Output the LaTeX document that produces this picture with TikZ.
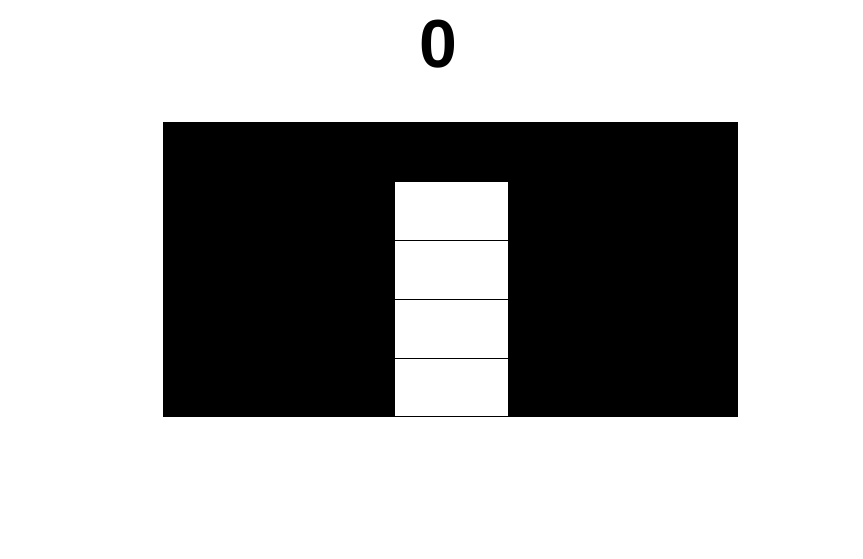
\documentclass[tikz,border=0pt]{standalone}
\usepackage{fontspec}
\setmainfont{Liberation Sans}
\begin{document}
\begin{tikzpicture}[
    x=0.75pt, y=-0.75pt,
    board/.style={rectangle, fill=black, minimum width=431.25pt, minimum height=221.25pt, inner sep=0pt},
    cell/.style={rectangle, draw=black, fill=white, line width=0.75pt, minimum width=85.5pt, minimum height=44.06pt, inner sep=0pt},
    counter/.style={font=\fontsize{51}{51}\selectfont\bfseries, inner sep=0pt},
]
\useasboundingbox (0,0) rectangle (863,559);
\node[counter] (count) at (438,44.5) {0};
\node[board] (board) at (450.5,269.5) {};

\foreach \i in {1,...,4}
    \node[cell] (cell\i) at (451,{182+58.75*(\i-0.5)}) {};
\end{tikzpicture}
\end{document}
